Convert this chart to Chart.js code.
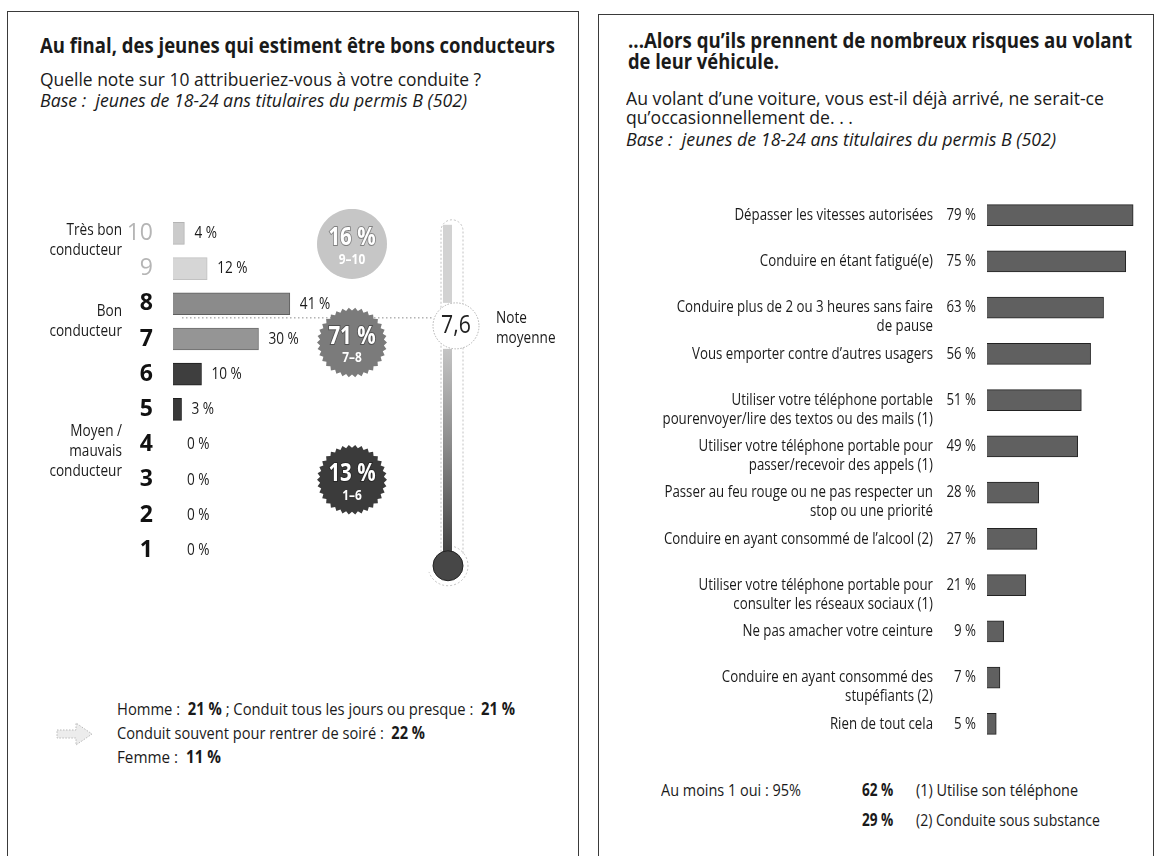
<!DOCTYPE html>
<html lang="fr">
<head>
<meta charset="utf-8">
<script src="https://cdn.jsdelivr.net/npm/chart.js@4.4.1/dist/chart.umd.min.js"></script>
<style>
  html, body { margin: 0; padding: 0; background: #fff; }
  body { width: 1159px; height: 856px; position: relative; overflow: hidden;
         font-family: 'Open Sans', 'Noto Sans', sans-serif; color: #1a1a1a; }
  .panel { position: absolute; border: 1.5px solid #3a3a3a; box-sizing: border-box; }
  .t { position: absolute; white-space: nowrap; transform-origin: 0 50%; }
  canvas { position: absolute; }
</style>
</head>
<body>
<div class="panel" style="left:7px; top:11px; width:572px; height:900px;"></div>
<div class="panel" style="left:598px; top:14px; width:556px; height:900px;"></div>

<!-- left panel text -->
<div class="t" data-cy="46" data-w="515" style="left:40px; font-size:21px; font-weight:bold;">Au final, des jeunes qui estiment être bons conducteurs</div>
<div class="t" data-cy="80" data-w="441" style="left:40px; font-size:19px;">Quelle note sur 10 attribueriez-vous à votre conduite ?</div>
<div class="t" data-cy="101" data-w="427" style="left:40px; font-size:18px; font-style:italic;">Base :&nbsp; jeunes de 18-24 ans titulaires du permis B (502)</div>

<svg style="position:absolute; left:56px; top:721px;" width="38" height="26" viewBox="0 0 38 26">
  <polygon points="1,9 20,9 20,2 36,13 20,24 20,17 1,17" fill="#ececec" stroke="#b9b9b9" stroke-width="1" stroke-dasharray="1.5 1.5"/>
</svg>
<div class="t" data-cy="710" data-w="398" style="left:117px; font-size:17px;">Homme :&nbsp; <b>21 %</b> ; Conduit tous les jours ou presque :&nbsp; <b>21 %</b></div>
<div class="t" data-cy="734" data-w="308" style="left:117px; font-size:17px;">Conduit souvent pour rentrer de soiré :&nbsp; <b>22 %</b></div>
<div class="t" data-cy="758" data-w="104" style="left:117px; font-size:17px;">Femme :&nbsp; <b>11 %</b></div>

<!-- right panel text -->
<div class="t" data-cy="41" data-w="504" style="left:628px; font-size:21px; font-weight:bold;">...Alors qu’ils prennent de nombreux risques au volant</div>
<div class="t" data-cy="62" data-w="151" style="left:628px; font-size:21px; font-weight:bold;">de leur véhicule.</div>
<div class="t" data-cy="99" data-w="478" style="left:626px; font-size:19px;">Au volant d’une voiture, vous est-il déjà arrivé, ne serait-ce</div>
<div class="t" data-cy="118" data-w="227" style="left:626px; font-size:19px;">qu’occasionnellement de. . .</div>
<div class="t" data-cy="140" data-w="430" style="left:626px; font-size:18px; font-style:italic;">Base :&nbsp; jeunes de 18-24 ans titulaires du permis B (502)</div>

<div class="t" data-cy="791" data-w="140" style="left:661px; font-size:17px;">Au moins 1 oui : 95%</div>
<div class="t" data-cy="791" style="left:862px; font-size:17px; font-weight:bold;">62 %</div>
<div class="t" data-cy="791" data-w="162" style="left:916px; font-size:17px;">(1) Utilise son téléphone</div>
<div class="t" data-cy="821" style="left:862px; font-size:17px; font-weight:bold;">29 %</div>
<div class="t" data-cy="821" data-w="184" style="left:916px; font-size:17px;">(2) Conduite sous substance</div>

<canvas id="noteChart" width="565" height="410" style="left:8px; top:190px;"></canvas>
<canvas id="risqueChart" width="555" height="580" style="left:598px; top:180px;"></canvas>

<script>
// Data - note attribuée à sa conduite
const notes = ['10', '9', '8', '7', '6', '5', '4', '3', '2', '1'];
const notePct = [4, 12, 41, 30, 10, 3, 0, 0, 0, 0];
const noteMoyenne = 7.6;
const groupePct = [16, 71, 13];
const groupeNotes = ['9–10', '7–8', '1–6'];
const groupeLabels = [['Très bon', 'conducteur'], ['Bon', 'conducteur'], ['Moyen /', 'mauvais', 'conducteur']];

// Data - risques au volant
const risques = [
    ['Dépasser les vitesses autorisées'],
    ['Conduire en étant fatigué(e)'],
    ['Conduire plus de 2 ou 3 heures sans faire', 'de pause'],
    ['Vous emporter contre d’autres usagers'],
    ['Utiliser votre téléphone portable', 'pourenvoyer/lire des textos ou des mails (1)'],
    ['Utiliser votre téléphone portable pour', 'passer/recevoir des appels (1)'],
    ['Passer au feu rouge ou ne pas respecter un', 'stop ou une priorité'],
    ['Conduire en ayant consommé de l’alcool (2)'],
    ['Utiliser votre téléphone portable pour', 'consulter les réseaux sociaux (1)'],
    ['Ne pas amacher votre ceinture'],
    ['Conduire en ayant consommé des', 'stupéfiants (2)'],
    ['Rien de tout cela']
];
const risquesPct = [79, 75, 63, 56, 51, 49, 28, 27, 21, 9, 7, 5];

// Fit html text lines to the widths of the original
function fitText() {
    document.querySelectorAll('.t').forEach(el => {
        const size = parseFloat(el.style.fontSize);
        el.style.lineHeight = (size * 1.2) + 'px';
        el.style.top = (parseFloat(el.dataset.cy) - size * 0.62) + 'px';
        el.style.transform = 'none';
        const w = el.getBoundingClientRect().width;
        const sx = el.dataset.w ? parseFloat(el.dataset.w) / w : 0.8;
        el.style.transform = `scaleX(${sx})`;
    });
}
fitText();
if (document.fonts) document.fonts.ready.then(fitText);

const SX = 0.8;
function drawText(ctx, s, x, y, o = {}) {
    ctx.save();
    ctx.font = `${o.italic ? 'italic ' : ''}${o.weight || 'normal'} ${o.size || 17}px 'Open Sans', 'Noto Sans', sans-serif`;
    ctx.fillStyle = o.color || '#1a1a1a';
    ctx.textAlign = o.align || 'left';
    ctx.textBaseline = 'middle';
    ctx.translate(x, y);
    ctx.scale(o.sx || SX, 1);
    if (o.stroke) {
        ctx.lineWidth = 2;
        ctx.strokeStyle = o.stroke;
        ctx.strokeText(s, 0, 0);
    }
    ctx.fillText(s, 0, 0);
    ctx.restore();
}

function badge(ctx, cx, cy, r, fill, serrated) {
    ctx.save();
    ctx.beginPath();
    const n = 34;
    for (let k = 0; k < n * 2; k++) {
        const ang = k * Math.PI / n;
        const rr = serrated && k % 2 ? r - 3 : r;
        const px = cx + rr * Math.cos(ang), py = cy + rr * Math.sin(ang);
        k ? ctx.lineTo(px, py) : ctx.moveTo(px, py);
    }
    ctx.closePath();
    ctx.fillStyle = fill;
    ctx.fill();
    ctx.restore();
}

// Notes chart extras: values, groups, badges, thermometer
const noteDecor = {
    id: 'noteDecor',
    afterDraw(chart) {
        const ctx = chart.ctx, xs = chart.scales.x, ys = chart.scales.y, a = chart.chartArea;

        notePct.forEach((v, i) => {
            const x = Math.max(xs.getPixelForValue(v), a.left + 4) + 10;
            drawText(ctx, v + ' %', x, ys.getPixelForValue(i), { size: 17 });
        });

        const groupPos = [0.2, 2.5, 6.2];
        groupeLabels.forEach((lines, g) => {
            const cy = ys.getPixelForValue(groupPos[g]);
            lines.forEach((l, j) => {
                drawText(ctx, l, 114, cy + (j - (lines.length - 1) / 2) * 20, { align: 'right', size: 17 });
            });
        });

        // mean line + thermometer
        const my = ys.getPixelForValue(Number(notes[0]) - noteMoyenne);
        const tubeTop = a.top + 9, bulbY = a.bottom - 2, tx = 439;
        const cx = 448, cyc = my + 8, cr = 23;

        ctx.save();
        ctx.setLineDash([2, 2]);
        ctx.strokeStyle = '#c2c2c2';
        ctx.lineWidth = 1;
        ctx.beginPath();
        ctx.moveTo(tx - 6, bulbY - 14); ctx.lineTo(tx - 6, tubeTop + 6);
        ctx.arc(tx + 5, tubeTop + 6, 11, Math.PI, 0);
        ctx.lineTo(tx + 16, bulbY - 12);
        ctx.stroke();
        ctx.beginPath();
        ctx.arc(tx + 1, bulbY, 20, -0.4 * Math.PI, 0.9 * Math.PI);
        ctx.stroke();
        ctx.restore();

        ctx.fillStyle = '#d2d2d2';
        ctx.fillRect(tx - 4, tubeTop, 9, cyc - cr - tubeTop);
        const grad = ctx.createLinearGradient(0, cyc + cr, 0, bulbY);
        grad.addColorStop(0, '#c4c4c4');
        grad.addColorStop(0.45, '#8a8a8a');
        grad.addColorStop(1, '#3a3a3a');
        ctx.fillStyle = grad;
        ctx.fillRect(tx - 4, cyc + cr, 9, bulbY - cyc - cr);
        ctx.beginPath();
        ctx.arc(tx + 1, bulbY, 15, 0, Math.PI * 2);
        ctx.fillStyle = '#474747';
        ctx.fill();
        ctx.strokeStyle = '#222';
        ctx.lineWidth = 1;
        ctx.stroke();

        ctx.save();
        ctx.setLineDash([1.5, 2.5]);
        ctx.strokeStyle = '#8a8a8a';
        ctx.beginPath();
        ctx.moveTo(a.left + 9, my); ctx.lineTo(cx - cr, my);
        ctx.stroke();
        ctx.beginPath();
        ctx.arc(cx, cyc, cr, 0, Math.PI * 2);
        ctx.fillStyle = '#fff';
        ctx.fill();
        ctx.setLineDash([1.5, 1.5]);
        ctx.strokeStyle = '#b0b0b0';
        ctx.stroke();
        ctx.restore();
        drawText(ctx, String(noteMoyenne).replace('.', ','), cx, cyc, { size: 25, align: 'center', sx: 0.85, color: '#222' });
        drawText(ctx, 'Note', 488, my, { size: 17 });
        drawText(ctx, 'moyenne', 488, my + 20, { size: 17 });

        // group badges
        const badgePos = [0.3, 3.1, 7.0];
        const badgeFill = ['#c6c6c6', '#7b7b7b', '#3b3b3b'];
        groupePct.forEach((p, g) => {
            const by = ys.getPixelForValue(badgePos[g]);
            badge(ctx, 344, by, 35, badgeFill[g], g > 0);
            drawText(ctx, p + ' %', 344, by - 6, { size: 25, weight: 'bold', align: 'center', color: '#fff', sx: 0.82, stroke: 'rgba(0,0,0,0.35)' });
            drawText(ctx, groupeNotes[g], 344, by + 16, { size: 14, weight: 'bold', align: 'center', color: '#fff', sx: 0.85 });
        });
    }
};

new Chart(document.getElementById('noteChart').getContext('2d'), {
    type: 'bar',
    data: {
        labels: notes,
        datasets: [{
            data: notePct,
            backgroundColor: ['#cbcbcb', '#d6d6d6', '#8b8b8b', '#959595', '#3e3e3e', '#383838', '#383838', '#383838', '#383838', '#383838'],
            borderColor: ['#b4b4b4', '#c2c2c2', '#5f5f5f', '#6c6c6c', '#1e1e1e', '#1e1e1e', '#1e1e1e', '#1e1e1e', '#1e1e1e', '#1e1e1e'],
            borderWidth: 1,
            barThickness: 22
        }]
    },
    options: {
        indexAxis: 'y',
        responsive: false,
        animation: false,
        devicePixelRatio: 1,
        layout: { padding: { left: 0, right: 115, top: 12.75, bottom: 32.25 } },
        plugins: { legend: { display: false }, tooltip: { enabled: false } },
        scales: {
            x: { display: false, min: 0, max: 100 },
            y: {
                grid: { display: false },
                border: { display: false },
                afterFit: s => { s.width = 165; },
                ticks: {
                    padding: 12,
                    color: c => c.index < 2 ? '#b5b5b5' : '#111',
                    font: c => ({ family: "'Open Sans', sans-serif", size: 23, weight: c.index < 2 ? 'normal' : 'bold' })
                }
            }
        }
    },
    plugins: [noteDecor]
});

// Risques chart extras: labels and values
const risqueDecor = {
    id: 'risqueDecor',
    afterDraw(chart) {
        const ctx = chart.ctx, ys = chart.scales.y;
        risquesPct.forEach((v, i) => {
            const y = ys.getPixelForValue(i);
            risques[i].forEach((line, j) => drawText(ctx, line, 335, y + j * 19, { align: 'right', size: 17, sx: 0.78 }));
            drawText(ctx, v + ' %', 378, y, { align: 'right', size: 17, sx: 0.78 });
        });
    }
};

new Chart(document.getElementById('risqueChart').getContext('2d'), {
    type: 'bar',
    data: {
        labels: risques,
        datasets: [{
            data: risquesPct,
            backgroundColor: '#606060',
            borderColor: '#222',
            borderWidth: 1,
            barThickness: 21
        }]
    },
    options: {
        indexAxis: 'y',
        responsive: false,
        animation: false,
        devicePixelRatio: 1,
        layout: { padding: { left: 389, right: 18, top: 12, bottom: 13 } },
        plugins: { legend: { display: false }, tooltip: { enabled: false } },
        scales: {
            x: { display: false, min: 0, max: 80 },
            y: { display: false }
        }
    },
    plugins: [risqueDecor]
});
</script>
</body>
</html>
